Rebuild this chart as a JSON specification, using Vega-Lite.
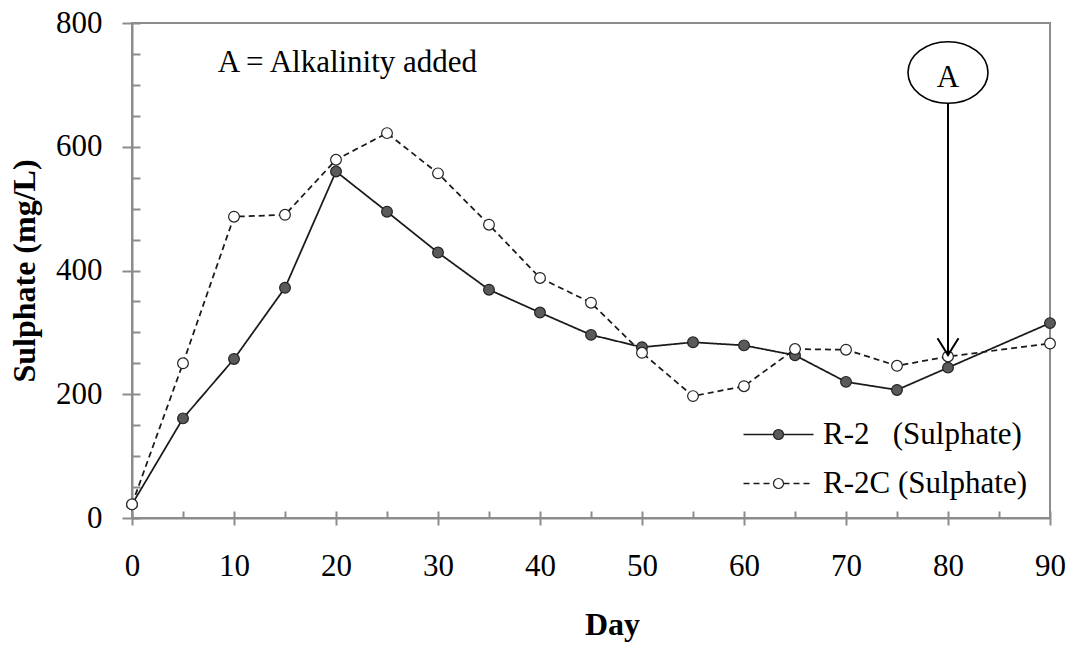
{
  "$schema": "https://vega.github.io/schema/vega-lite/v6.json",
  "width": 918,
  "height": 495,
  "autosize": {"type": "none"},
  "padding": {"left": 132, "top": 23, "right": 23, "bottom": 127},
  "background": "white",
  "config": {
    "font": "Liberation Serif",
    "view": {"stroke": "#8c8c8c", "strokeWidth": 2},
    "axis": {
      "grid": false,
      "domainColor": "#8c8c8c",
      "domainWidth": 2,
      "tickColor": "#8c8c8c",
      "tickWidth": 2,
      "labelFont": "Liberation Serif",
      "labelFontSize": 31,
      "labelColor": "black",
      "titleFont": "Liberation Serif",
      "titleFontSize": 32,
      "titleFontWeight": "bold",
      "titleColor": "black"
    }
  },
  "datasets": {
    "sulphate": [
      {"series": "R-2", "day": 0, "value": 22},
      {"series": "R-2", "day": 5, "value": 161},
      {"series": "R-2", "day": 10, "value": 257},
      {"series": "R-2", "day": 15, "value": 372},
      {"series": "R-2", "day": 20, "value": 560},
      {"series": "R-2", "day": 25, "value": 495},
      {"series": "R-2", "day": 30, "value": 429},
      {"series": "R-2", "day": 35, "value": 369},
      {"series": "R-2", "day": 40, "value": 332},
      {"series": "R-2", "day": 45, "value": 296},
      {"series": "R-2", "day": 50, "value": 276},
      {"series": "R-2", "day": 55, "value": 284},
      {"series": "R-2", "day": 60, "value": 279},
      {"series": "R-2", "day": 65, "value": 263},
      {"series": "R-2", "day": 70, "value": 220},
      {"series": "R-2", "day": 75, "value": 207},
      {"series": "R-2", "day": 80, "value": 243},
      {"series": "R-2", "day": 90, "value": 315},
      {"series": "R-2C", "day": 0, "value": 22},
      {"series": "R-2C", "day": 5, "value": 250},
      {"series": "R-2C", "day": 10, "value": 487},
      {"series": "R-2C", "day": 15, "value": 490},
      {"series": "R-2C", "day": 20, "value": 579},
      {"series": "R-2C", "day": 25, "value": 622},
      {"series": "R-2C", "day": 30, "value": 557},
      {"series": "R-2C", "day": 35, "value": 474},
      {"series": "R-2C", "day": 40, "value": 388},
      {"series": "R-2C", "day": 45, "value": 348},
      {"series": "R-2C", "day": 50, "value": 267},
      {"series": "R-2C", "day": 55, "value": 197},
      {"series": "R-2C", "day": 60, "value": 213},
      {"series": "R-2C", "day": 65, "value": 273},
      {"series": "R-2C", "day": 70, "value": 272},
      {"series": "R-2C", "day": 75, "value": 246},
      {"series": "R-2C", "day": 80, "value": 261},
      {"series": "R-2C", "day": 90, "value": 282}
    ]
  },
  "layer": [
    {
      "data": {"name": "sulphate"},
      "mark": {"type": "line", "strokeWidth": 1.75, "color": "#1a1a1a"},
      "encoding": {
        "x": {
          "field": "day", "type": "quantitative",
          "scale": {"domain": [0, 90], "nice": false, "zero": false},
          "axis": {
            "orient": "bottom",
            "values": [0, 10, 20, 30, 40, 50, 60, 70, 80, 90],
            "tickSize": 7, "labelPadding": 26, "labelFlush": false, "labelOverlap": false,
            "title": "Day", "titlePadding": 28, "titleX": 480
          }
        },
        "y": {
          "field": "value", "type": "quantitative",
          "scale": {"domain": [0, 800], "nice": false},
          "axis": {
            "orient": "left",
            "values": [0, 200, 400, 600, 800],
            "tickSize": 10, "labelPadding": 20, "labelFlush": false, "labelOverlap": false,
            "title": "Sulphate (mg/L)", "titlePadding": 14
          }
        },
        "strokeDash": {
          "field": "series", "type": "nominal",
          "scale": {"domain": ["R-2", "R-2C"], "range": [[1, 0], [6, 4]]},
          "legend": {
            "orient": "none", "legendX": 631, "legendY": 396, "title": null, "padding": 0,
            "symbolType": "M -7 0 L -1 0 M 1 0 L 7 0",
            "symbolSize": 100, "symbolStrokeColor": "#1a1a1a", "symbolStrokeWidth": 1.5,
            "symbolFillColor": "transparent",
            "labelFont": "Liberation Serif", "labelFontSize": 31, "labelColor": "black",
            "labelOffset": 29, "rowPadding": 17, "labelLimit": 400,
            "labelExpr": "datum.label === 'R-2' ? 'R-2\u00a0\u00a0\u00a0(Sulphate)' : 'R-2C (Sulphate)'"
          }
        }
      }
    },
    {
      "data": {"name": "sulphate"},
      "mark": {"type": "point", "filled": true, "stroke": "#222222", "strokeWidth": 1.2, "size": 115, "opacity": 1},
      "encoding": {
        "x": {
          "field": "day", "type": "quantitative",
          "axis": {"orient": "bottom", "values": [0, 5, 10, 15, 20, 25, 30, 35, 40, 45, 50, 55, 60, 65, 70, 75, 80, 85, 90], "tickSize": -7, "labels": false, "domain": false, "title": null}
        },
        "y": {
          "field": "value", "type": "quantitative",
          "axis": {"orient": "left", "values": [0, 50, 100, 150, 200, 250, 300, 350, 400, 450, 500, 550, 600, 650, 700, 750, 800], "tickSize": -8, "labels": false, "domain": false, "title": null}
        },
        "fill": {
          "field": "series", "type": "nominal",
          "scale": {"range": ["#5a5a5a", "white"]},
          "legend": {
            "orient": "none", "legendX": 631, "legendY": 396, "title": null, "padding": 0,
            "symbolType": "circle", "symbolSize": 100, "symbolStrokeColor": "#222222", "symbolStrokeWidth": 1.2,
            "labelFont": "Liberation Serif", "labelFontSize": 31, "labelColor": "black", "labelOpacity": 0,
            "labelOffset": 29, "rowPadding": 17, "labelLimit": 400,
            "labelExpr": "datum.label === 'R-2' ? 'R-2\u00a0\u00a0\u00a0(Sulphate)' : 'R-2C (Sulphate)'"
          }
        }
      }
    },
    {
      "data": {"values": [{"day": 80, "value": 720}]},
      "mark": {"type": "point", "shape": "M -1 0 A 1 0.77 0 1 0 1 0 A 1 0.77 0 1 0 -1 0 Z", "size": 6400, "filled": false, "stroke": "black", "strokeWidth": 1.6, "opacity": 1},
      "encoding": {
        "x": {"field": "day", "type": "quantitative", "axis": null},
        "y": {"field": "value", "type": "quantitative", "axis": null}
      }
    },
    {
      "data": {"values": [{"day": 80, "value": 697, "label": "A"}]},
      "mark": {"type": "text", "fontSize": 31, "font": "Liberation Serif", "align": "center", "baseline": "alphabetic", "color": "black"},
      "encoding": {
        "x": {"field": "day", "type": "quantitative", "axis": null},
        "y": {"field": "value", "type": "quantitative", "axis": null},
        "text": {"field": "label"}
      }
    },
    {
      "data": {"values": [{"day": 8.4, "value": 721, "label": "A = Alkalinity added"}]},
      "mark": {"type": "text", "fontSize": 31, "font": "Liberation Serif", "align": "left", "baseline": "alphabetic", "color": "black"},
      "encoding": {
        "x": {"field": "day", "type": "quantitative", "axis": null},
        "y": {"field": "value", "type": "quantitative", "axis": null},
        "text": {"field": "label"}
      }
    },
    {
      "data": {"values": [{"day": 80, "value": 670, "value2": 263}]},
      "mark": {"type": "rule", "strokeWidth": 2, "color": "black"},
      "encoding": {
        "x": {"field": "day", "type": "quantitative", "axis": null},
        "y": {"field": "value", "type": "quantitative", "axis": null},
        "y2": {"field": "value2"}
      }
    },
    {
      "data": {"values": [{"day": 80, "value": 277}]},
      "mark": {"type": "point", "shape": "M -1 -0.8 L 0 0.8 L 1 -0.8", "size": 441, "filled": false, "stroke": "black", "strokeWidth": 2, "opacity": 1},
      "encoding": {
        "x": {"field": "day", "type": "quantitative", "axis": null},
        "y": {"field": "value", "type": "quantitative", "axis": null}
      }
    }
  ],
  "resolve": {"axis": {"x": "independent", "y": "independent"}}
}
